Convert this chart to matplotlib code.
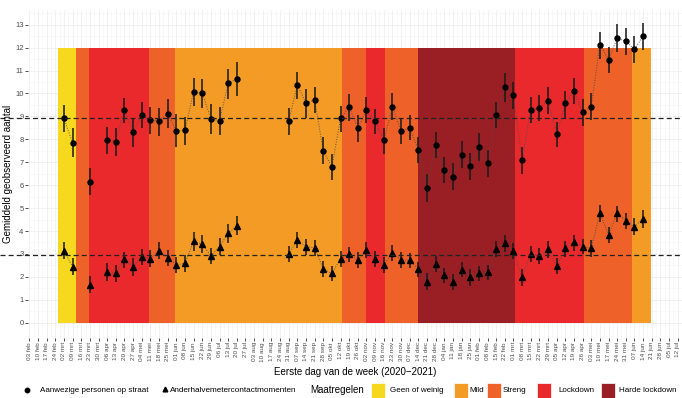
import numpy as np
import pandas as pd
import matplotlib
matplotlib.use('Agg')
import matplotlib.pyplot as plt
from matplotlib.patches import Rectangle
from matplotlib.lines import Line2D

plt.rcParams['font.family'] = ['Liberation Sans', 'DejaVu Sans']

# weeks since 03 feb 2020
weeks = [4, 5, 7] + list(range(9, 25)) + list(range(30, 72))

straat_mean = [8.92, 7.84, 6.15, 7.97, 7.90, 9.27, 8.31, 9.06, 8.84, 8.79, 9.11, 8.36, 8.39,
               10.08, 10.02, 8.90, 8.80, 10.44, 10.63,
               8.79, 10.37, 9.57, 9.72, 7.50, 6.79, 8.92, 9.40, 8.49, 9.29, 8.79, 7.96, 9.43,
               8.36, 8.51, 7.54, 5.89, 7.75, 6.65, 6.37, 7.33, 6.85, 7.68, 6.95, 9.06, 10.27,
               9.93, 7.08, 9.28, 9.38, 9.69, 8.23, 9.57, 10.12, 9.18, 9.43, 12.13, 11.48, 12.42,
               12.28, 11.93, 12.50]
straat_lo = [8.34, 7.22, 5.57, 7.36, 7.27, 8.70, 7.67, 8.48, 8.23, 8.15, 8.48, 7.65, 7.75,
             9.45, 9.38, 8.23, 8.19, 9.77, 9.90,
             8.18, 9.76, 8.94, 9.14, 6.92, 6.23, 8.33, 8.81, 7.87, 8.70, 8.22, 7.36, 8.84,
             7.80, 7.97, 6.96, 5.28, 7.17, 6.08, 5.79, 6.74, 6.23, 7.07, 6.37, 8.51, 9.64,
             9.34, 6.47, 8.70, 8.80, 9.09, 7.65, 8.94, 9.54, 8.58, 8.84, 11.49, 10.88, 11.82,
             11.68, 11.32, 11.90]
straat_hi = [9.49, 8.48, 6.74, 8.55, 8.48, 9.82, 8.92, 9.64, 9.42, 9.37, 9.76, 9.09, 8.99,
             10.69, 10.65, 9.54, 9.40, 11.06, 11.36,
             9.38, 10.93, 10.18, 10.27, 8.09, 7.37, 9.45, 9.96, 9.06, 9.83, 9.34, 8.51, 10.01,
             8.92, 9.06, 8.12, 6.49, 8.31, 7.24, 6.95, 7.93, 7.42, 8.26, 7.54, 9.64, 10.88,
             10.50, 7.68, 9.86, 9.93, 10.27, 8.77, 10.11, 10.69, 9.75, 10.01, 12.70, 12.04, 13.02,
             12.86, 12.51, 13.09]

contact_mean = [3.14, 2.44, 1.64, 2.21, 2.17, 2.77, 2.44, 2.88, 2.79, 3.14, 2.84, 2.52, 2.59,
                3.55, 3.42, 2.91, 3.32, 3.90, 4.22,
                3.00, 3.61, 3.32, 3.27, 2.34, 2.15, 2.79, 2.98, 2.72, 3.16, 2.79, 2.52, 3.05,
                2.74, 2.72, 2.33, 1.79, 2.56, 2.07, 1.78, 2.30, 1.98, 2.15, 2.20, 3.23, 3.46,
                3.14, 1.98, 3.00, 2.91, 3.20, 2.47, 3.25, 3.51, 3.32, 3.25, 4.77, 3.83, 4.77,
                4.45, 4.19, 4.54]
contact_lo = [2.77, 2.07, 1.31, 1.82, 1.79, 2.40, 2.04, 2.52, 2.42, 2.77, 2.49, 2.15, 2.23,
              3.14, 3.03, 2.56, 2.95, 3.49, 3.81,
              2.64, 3.25, 2.95, 2.92, 2.01, 1.83, 2.44, 2.64, 2.37, 2.81, 2.44, 2.18, 2.71,
              2.37, 2.37, 1.98, 1.43, 2.23, 1.72, 1.43, 1.98, 1.60, 1.82, 1.86, 2.88, 3.10,
              2.78, 1.60, 2.64, 2.55, 2.84, 2.11, 2.88, 3.14, 2.98, 2.88, 4.38, 3.46, 4.41,
              4.09, 3.83, 4.14]
contact_hi = [3.51, 2.84, 2.04, 2.59, 2.52, 3.10, 2.81, 3.20, 3.17, 3.53, 3.17, 2.88, 2.95,
              3.94, 3.83, 3.27, 3.68, 4.31, 4.67,
              3.36, 3.94, 3.65, 3.61, 2.69, 2.49, 3.14, 3.32, 3.07, 3.51, 3.14, 2.85, 3.39,
              3.07, 3.03, 2.66, 2.15, 2.91, 2.40, 2.12, 2.64, 2.33, 2.49, 2.52, 3.58, 3.83,
              3.49, 2.33, 3.35, 3.25, 3.56, 2.81, 3.58, 3.83, 3.64, 3.61, 5.14, 4.19, 5.09,
              4.80, 4.55, 4.92]

gem_straat = 8.92
gem_contact = 2.95

# maatregelen periods in days since 03 feb 2020
periode_start = [23, 38, 48, 97, 118, 253, 273, 288, 315, 393, 449, 488]
periode_eind = [38, 48, 97, 118, 253, 273, 288, 315, 393, 449, 488, 503]
periode_niveau = ['Geen of weinig', 'Streng', 'Lockdown', 'Streng', 'Mild', 'Streng',
                  'Lockdown', 'Streng', 'Harde lockdown', 'Lockdown', 'Streng', 'Mild']

niveaus = ['Geen of weinig', 'Mild', 'Streng', 'Lockdown', 'Harde lockdown']
kleuren = {'Geen of weinig': '#F6D81E', 'Mild': '#F49B25', 'Streng': '#EE6128',
           'Lockdown': '#EA292C', 'Harde lockdown': '#9A1F24'}

maanden = ['jan', 'feb', 'mrt', 'apr', 'mei', 'jun', 'jul', 'aug', 'sep', 'okt', 'nov', 'dec']
tick_dates = pd.date_range('2020-02-03', '2021-07-12', freq='7D')
tick_labels = [f"{d.day:02d} {maanden[d.month - 1]}" for d in tick_dates]

W, H = 682, 398
fig = plt.figure(figsize=(W / 100, H / 100), dpi=100)
ax = fig.add_axes([28 / W, 1 - 337.6 / H, (682 - 28) / W, (337.6 - 9.8) / H])

for s, e, n in zip(periode_start, periode_eind, periode_niveau):
    ax.add_patch(Rectangle((s, 0), e - s, 12, facecolor=kleuren[n], edgecolor='none', zorder=1))

x = np.array(weeks) * 7


def draw(mean, lo, hi, marker, ms):
    mean = np.array(mean)
    # break the dotted line where weeks are missing
    xs, ys = [], []
    for i in range(len(x)):
        if i > 0 and weeks[i] - weeks[i - 1] > 1:
            xs.append(np.nan)
            ys.append(np.nan)
        xs.append(x[i])
        ys.append(mean[i])
    ax.plot(xs, ys, linestyle=(0, (1, 1.6)), color='#4d4d4d', linewidth=0.7, alpha=0.9, zorder=3)
    ax.vlines(x, lo, hi, color='#1a1a1a', linewidth=1.4, alpha=0.8, zorder=4)
    ax.plot(x, mean, linestyle='none', marker=marker, color='black', markersize=ms, zorder=5)


draw(straat_mean, straat_lo, straat_hi, 'o', 3.6)
draw(contact_mean, contact_lo, contact_hi, '^', 3.8)

for yv in [gem_straat, gem_contact]:
    ax.plot([-28 / 654, 1], [yv, yv], transform=ax.get_yaxis_transform(), clip_on=False,
            color='#222222', linestyle=(0, (4, 2.5)), linewidth=0.9, zorder=6)

ax.set_xlim(-1.1, 528.5)
ax.set_ylim(-0.65, 13.65)
ax.set_xticks(np.arange(len(tick_labels)) * 7)
ax.set_xticklabels(tick_labels, rotation=90, fontsize=4.6, color='#4d4d4d')
ax.set_xticks(np.arange(len(tick_labels)) * 7 + 3.5, minor=True)
ax.set_yticks(range(0, 14))
ax.set_yticks(np.arange(0.5, 13.6, 1), minor=True)
ax.tick_params(axis='y', labelsize=5.5, labelcolor='#4d4d4d')
ax.tick_params(which='major', length=2.2, width=0.6, color='#333333', pad=1)
ax.tick_params(which='minor', length=0)
ax.grid(which='major', color='#EBEBEB', linewidth=0.5, zorder=0)
ax.grid(which='minor', color='#F4F4F4', linewidth=0.4, zorder=0)
ax.set_axisbelow(True)
for sp in ax.spines.values():
    sp.set_visible(False)

fig.text(8 / W, 0.5 * (1 - 337.6 / H) + 0.5 * (1 - 9.8 / H), 'Gemiddeld geobserveerd aantal',
         fontsize=7, rotation=90, ha='center', va='center')
fig.text(355 / W, 1 - 372 / H, 'Eerste dag van de week (2020\u22122021)', fontsize=7,
         ha='center', va='center')

# legend row
ly = 1 - 390 / H
fig.add_artist(Line2D([26.7 / W], [ly], marker='o', color='black', markersize=3.2,
                      transform=fig.transFigure))
fig.text(40 / W, ly, 'Aanwezige personen op straat', fontsize=5.8, va='center')
fig.add_artist(Line2D([164.5 / W], [ly + 1 / H], marker='^', color='black', markersize=3.4,
                      transform=fig.transFigure))
fig.text(170 / W, ly, 'Anderhalvemetercontactmomenten', fontsize=5.9, va='center')
fig.text(310 / W, ly, 'Maatregelen', fontsize=7, va='center')
box_x = [371, 454, 487, 537, 601]
text_x = [390, 469, 503, 558, 619]
for n, bx, tx in zip(niveaus, box_x, text_x):
    fig.add_artist(Rectangle((bx / W, ly - 7.5 / H), 13.5 / W, 15 / H, facecolor=kleuren[n],
                             edgecolor='white', linewidth=0.5, transform=fig.transFigure))
    fig.text(tx / W, ly, n, fontsize=5.8, va='center')

fig.savefig('out.png', dpi=100)
